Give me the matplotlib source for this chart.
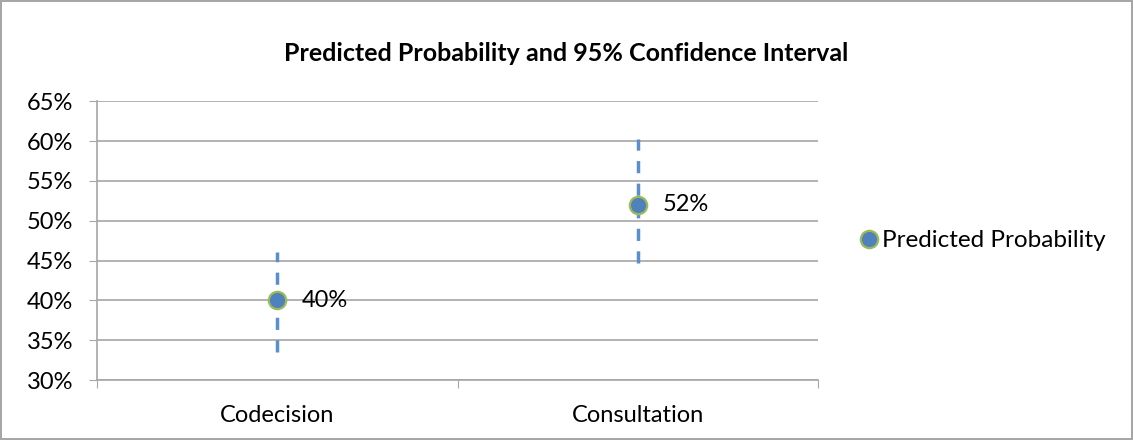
import numpy as np
import matplotlib.pyplot as plt
from matplotlib.ticker import FuncFormatter

# Data
categories = ["Codecision", "Consultation"]
predicted = np.array([0.40, 0.52])
ci_low = np.array([0.335, 0.447])
ci_high = np.array([0.461, 0.602])
labels = ["40%", "52%"]

plt.rcParams['font.family'] = ['Lato', 'DejaVu Sans']

fig = plt.figure(figsize=(11.33, 4.40), dpi=100)
fig.patch.set_edgecolor('#a6a6a6')
fig.patch.set_linewidth(1.5)
ax = fig.add_axes([0.0856, 0.136, 0.6364, 0.634])

x = np.arange(len(categories)) + 0.5
grid_col = '#a6a6a6'

# Confidence intervals as dashed vertical lines
for xi, lo, hi in zip(x, ci_low, ci_high):
    ax.plot([xi, xi], [lo, hi], color='#5b8fcc', linewidth=2.5,
            linestyle=(0, (3.5, 3)), zorder=2)

ax.plot(x, predicted, linestyle='none', marker='o', markersize=12.5,
        markerfacecolor='#4f81bd', markeredgecolor='#9bbb59',
        markeredgewidth=1.6, label='Predicted Probability', zorder=3)

for xi, yi, t in zip(x, predicted, labels):
    ax.annotate(t, (xi, yi), xytext=(18, 0), textcoords='offset points',
                va='center', ha='left', fontsize=17, color='black')

ax.set_xlim(0, 2)
ax.set_ylim(0.30, 0.65)
ax.set_yticks(np.arange(0.30, 0.651, 0.05))
ax.yaxis.set_major_formatter(FuncFormatter(lambda v, p: f"{v*100:.0f}%"))
ax.set_xticks([0, 1, 2])
ax.set_xticklabels([])
ax.set_xticks(x, minor=True)
ax.set_xticklabels(categories, minor=True)
ax.tick_params(axis='x', which='minor', length=0, pad=18, labelsize=17)
ax.tick_params(axis='x', which='major', length=6, color=grid_col)
ax.tick_params(axis='y', length=6, color=grid_col, labelsize=17, pad=11)

ax.grid(axis='y', color=grid_col, linewidth=1.2)
ax.set_axisbelow(True)
for s in ['top', 'right']:
    ax.spines[s].set_visible(False)
for s in ['left', 'bottom']:
    ax.spines[s].set_color(grid_col)
    ax.spines[s].set_linewidth(1.2)

fig.text(0.5, 0.878, "Predicted Probability and 95% Confidence Interval",
         ha='center', va='center', fontsize=18, fontweight='bold')

ax.legend(loc='center left', bbox_to_anchor=(1.06, 0.5), frameon=False,
          fontsize=17.5, handlelength=0.6, handletextpad=0.25,
          borderaxespad=0, borderpad=0)

fig.savefig('out.png', dpi=100)
